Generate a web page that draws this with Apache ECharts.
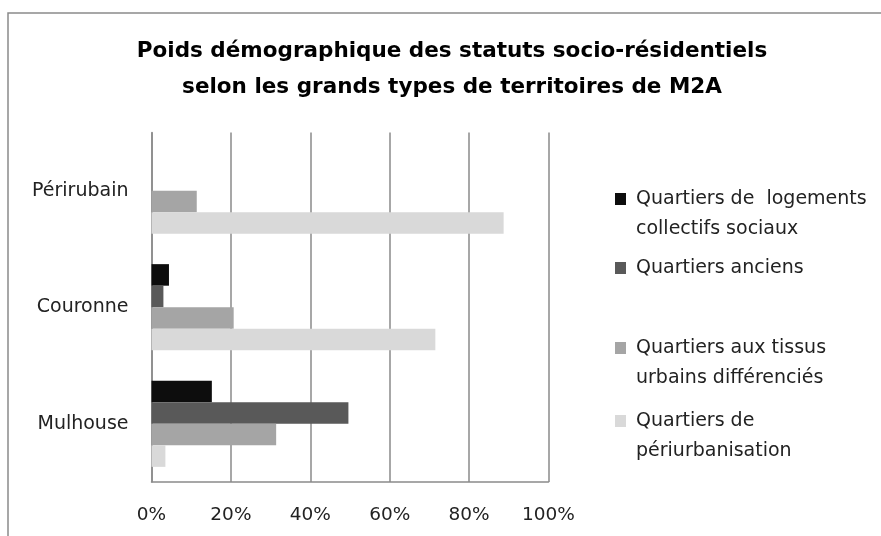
<!DOCTYPE html>
<html>
<head>
<meta charset="utf-8">
<script src="https://cdn.jsdelivr.net/npm/echarts@6/dist/echarts.min.js"></script>
<style>html,body{margin:0;padding:0;background:#fff}#c{width:881px;height:536px}</style>
</head>
<body>
<div id="c"></div>
<script>
var categories = ['Périrubain', 'Couronne', 'Mulhouse'];
var seriesNames = [
  'Quartiers de  logements\ncollectifs sociaux',
  'Quartiers anciens',
  'Quartiers aux tissus\nurbains différenciés',
  'Quartiers de\npériurbanisation'
];
var logementsSociaux = [0, 4.4, 15.2];
var quartiersAnciens = [0, 3.0, 49.6];
var tissusDifferencies = [11.4, 20.7, 31.4];
var periurbanisation = [88.7, 71.5, 3.5];
var xTicks = [0, 20, 40, 60, 80, 100];
var colors = ['#0d0d0d', '#595959', '#a5a5a5', '#d9d9d9'];
var values = [logementsSociaux, quartiersAnciens, tissusDifferencies, periurbanisation];

var FONT = 'DejaVu Sans';
var FS = 19;
var legendCenters = [199, 268, 348, 421];
var legends = seriesNames.map(function (n, i) {
  var twoLines = n.indexOf('\n') >= 0;
  return {
    data: [n],
    orient: 'vertical',
    left: 615,
    top: legendCenters[i] - (twoLines ? 45 : 15),
    padding: 0,
    itemWidth: 11,
    itemHeight: 12,
    selectedMode: false,
    icon: 'rect',
    formatter: function (name) { return twoLines ? ' \n' + name : name; },
    textStyle: {
      fontFamily: FONT, fontSize: FS, color: '#222', lineHeight: 30,
      padding: [0, 0, 0, 5]
    }
  };
});

var chart = echarts.init(document.getElementById('c'), null, {renderer: 'canvas'});
chart.setOption({
  animation: false,
  backgroundColor: '#fff',
  title: {
    text: 'Poids démographique des statuts socio-résidentiels\nselon les grands types de territoires de M2A',
    left: 452,
    textAlign: 'center',
    top: 33,
    padding: 0,
    textStyle: {fontFamily: FONT, fontSize: 21.5, fontWeight: 'bold', color: '#000', lineHeight: 36}
  },
  graphic: [{
    type: 'rect', silent: true,
    shape: {x: 8, y: 13, width: 900, height: 600},
    style: {fill: 'none', stroke: '#8a8a8a', lineWidth: 1.5}
  }],
  legend: legends,
  grid: {left: 151.5, right: 332.5, top: 132.5, bottom: 54, containLabel: false},
  xAxis: {
    type: 'value', min: xTicks[0], max: xTicks[xTicks.length - 1], interval: 20,
    axisLine: {show: true, lineStyle: {color: '#8a8a8a', width: 1.5}},
    axisTick: {show: false},
    splitLine: {show: true, lineStyle: {color: '#8a8a8a', width: 1.5}},
    axisLabel: {formatter: '{value}%', fontFamily: FONT, fontSize: 18.5, color: '#222', margin: 24}
  },
  yAxis: {
    type: 'category', data: categories, inverse: true,
    axisLine: {show: true, lineStyle: {color: '#8a8a8a', width: 1.5}},
    axisTick: {show: false},
    axisLabel: {fontFamily: FONT, fontSize: FS, color: '#222', margin: 23}
  },
  series: seriesNames.map(function (n, i) {
    return {
      name: n, type: 'bar', data: values[i],
      barGap: '0%', barCategoryGap: '26%',
      itemStyle: {color: colors[i]}
    };
  })
});
</script>
</body>
</html>
